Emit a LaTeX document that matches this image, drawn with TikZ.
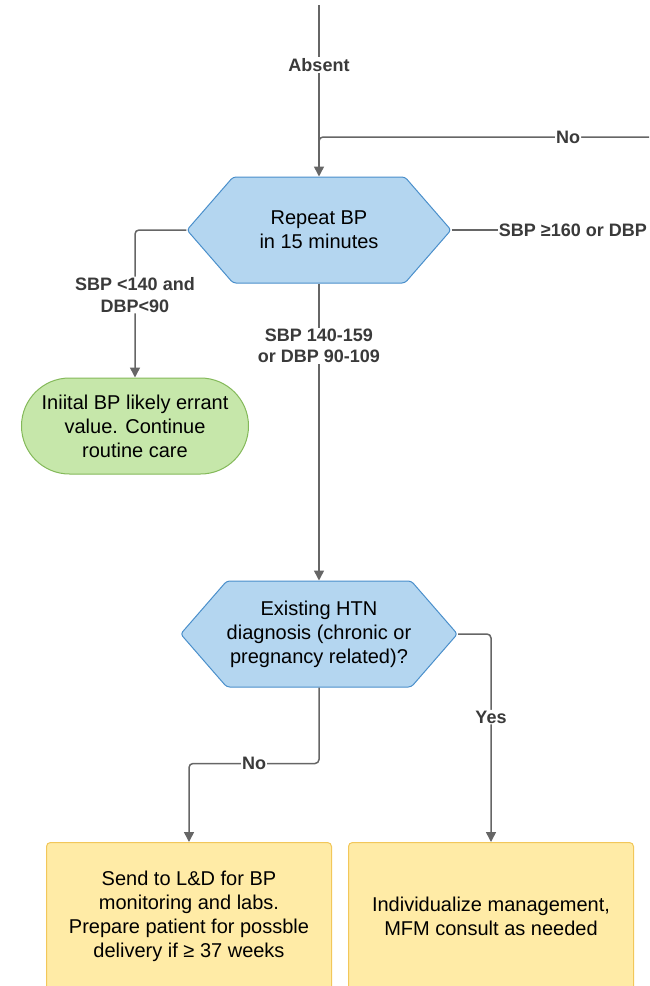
\documentclass[tikz,border=0pt]{standalone}
\usepackage{fontspec}
\setmainfont{Liberation Sans}
\usetikzlibrary{shapes.symbols,arrows.meta}
\definecolor{hexblue}{HTML}{B4D6F0}
\definecolor{hexline}{HTML}{4A8FCB}
\definecolor{termgreen}{HTML}{C6E7AA}
\definecolor{termline}{HTML}{84B95A}
\definecolor{actyellow}{HTML}{FFEBA6}
\definecolor{actline}{HTML}{F2C75A}
\definecolor{linegray}{HTML}{666666}
\definecolor{labelgray}{HTML}{3A3A3A}

\begin{document}
\begin{tikzpicture}[x=1pt, y=-1pt,
    decision/.style={draw=hexline, fill=hexblue, line width=1pt, rounded corners=3pt, signal, signal to=east and west, signal pointer angle=98, minimum width=264pt, minimum height=106pt, inner sep=0pt, align=center, font=\fontsize{20}{24}\selectfont},
    terminal/.style={draw=termline, fill=termgreen, line width=1pt, rounded corners=48pt, minimum width=227pt, minimum height=96pt, align=center, font=\fontsize{20}{24}\selectfont},
    action/.style={draw=actline, fill=actyellow, line width=1pt, rounded corners=4pt, minimum width=285pt, minimum height=148pt, align=center, font=\fontsize{20}{24}\selectfont},
    lbl/.style={fill=white, inner sep=1pt, text=labelgray, align=center, font=\bfseries\fontsize{18}{21.5}\selectfont},
    line/.style={draw=linegray, line width=1.5pt},
    arr/.style={line, -{Triangle[length=10pt,width=10pt]}}]
    \useasboundingbox (0,0) rectangle (649,986);
    \clip (0,0) rectangle (649,986);

    \node[decision] (repeat) at (319,230) {Repeat BP\\in 15 minutes};
    \node[terminal] (errant) at (135,426) {Iniital BP likely errant\\value. Continue\\routine care};
    \node[decision] (htn) at (319,634) {Existing HTN\\diagnosis (chronic or\\pregnancy related)?};
    \node[action, anchor=north] (send) at (189,842) {Send to L\&D for BP\\monitoring and labs.\\Prepare patient for possble\\delivery if ≥ 37 weeks};
    \node[action, anchor=north] (indiv) at (491,842) {Individualize management,\\MFM consult as needed};

    \coordinate (entry) at (319,5);
    \coordinate (noin) at (649,137);
    \coordinate (joint) at (319,137);
    \node[lbl, anchor=east] (severe) at (648,230) {SBP ≥160 or DBP};

    \draw[arr] (entry) -- node[lbl, pos=0.35] {Absent} (repeat.north);
    \draw[line, rounded corners=4pt] (noin) -- node[lbl, pos=0.245] {No} (joint) -- ++(0,10);
    \draw[line] (repeat.east) -- (severe.west);
    \draw[arr, rounded corners=4pt] (repeat.west) -| node[lbl, pos=0.72] {SBP <140 and\\DBP<90} (errant.north);
    \draw[arr] (repeat.south) -- node[lbl, pos=0.21] {SBP 140-159\\or DBP 90-109} (htn.north);
    \draw[arr, rounded corners=4pt] (htn.east) -| node[lbl, pos=0.70] {Yes} (indiv.north);
    \draw[arr, rounded corners=4pt] (htn.south) -- ++(0,76) -| node[lbl, pos=0.25] {No} (send.north);
\end{tikzpicture}
\end{document}
